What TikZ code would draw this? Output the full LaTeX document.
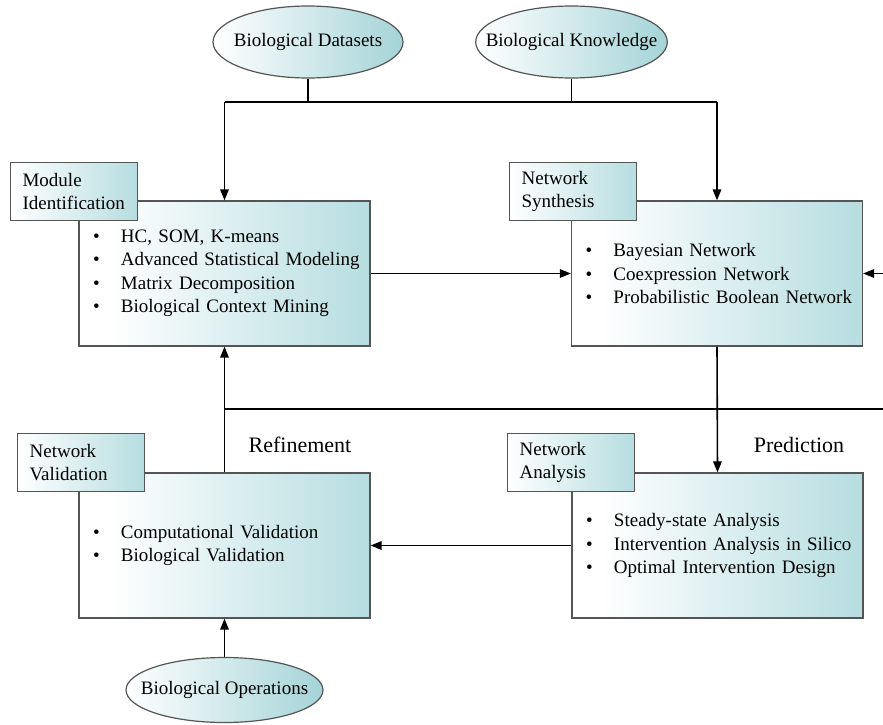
\documentclass[tikz,border=0pt]{standalone}
\usepackage{fontspec}
\setmainfont{Liberation Serif}
\usetikzlibrary{arrows.meta,shapes.geometric}
\definecolor{boxteal}{RGB}{182,221,224}
\definecolor{ellteal}{RGB}{165,212,216}
\definecolor{edgegray}{RGB}{85,85,85}
\pgfdeclarehorizontalshading{boxfade}{100bp}{color(0bp)=(white); color(30bp)=(white); color(75bp)=(boxteal); color(100bp)=(boxteal)}
\newcommand{\bul}[1]{\mbox{\makebox[28pt][l]{\textbullet}#1}}

\begin{document}
\begin{tikzpicture}[x=1pt,y=-1pt,
  every node/.style={font=\fontsize{19}{23.5}\selectfont},
  mainbox/.style={draw=edgegray,line width=1.2pt,shade,shading=boxfade,minimum width=291pt,minimum height=145pt,inner xsep=14pt,text width=263pt,align=left},
  tagbox/.style={draw=edgegray,line width=1.2pt,left color=white,right color=boxteal,minimum width=127pt,minimum height=58pt,inner xsep=12pt,text width=103pt,align=left,anchor=north west},
  source/.style={ellipse,draw=edgegray,line width=1.2pt,left color=white,right color=ellteal,minimum width=190pt,minimum height=72pt,inner xsep=-18pt,inner ysep=0pt},
  arr/.style={-{Triangle[length=11pt,width=8.5pt]}},
  phase/.style={font=\fontsize{22}{26}\selectfont}]
  \useasboundingbox (0,0) rectangle (883,725);

  \node[source] (bd) at (308,42) {Biological Datasets};
  \node[source] (bk) at (571.5,42) {Biological Knowledge};
  \node[source,minimum width=197pt,minimum height=65pt] (bo) at (224.5,690) {Biological Operations};

  \node[mainbox] (mi) at (224.5,273.5) {\bul{HC, SOM, K-means}\\\bul{Advanced Statistical Modeling}\\\bul{Matrix Decomposition}\\\bul{Biological Context Mining}};
  \node[mainbox] (ns) at (717,273.5) {\bul{Bayesian Network}\\\bul{Coexpression Network}\\\bul{Probabilistic Boolean Network}};
  \node[mainbox] (nv) at (224.5,545.5) {\bul{Computational Validation}\\\bul{Biological Validation}};
  \node[mainbox] (na) at (717.5,545.5) {\bul{Steady-state Analysis}\\\bul{Intervention Analysis in Silico}\\\bul{Optimal Intervention Design}};

  \node[tagbox] (milab) at (10,162) {Module\\Identification};
  \node[tagbox] (nslab) at (509,162) {Network\\Synthesis};
  \node[tagbox] (nvlab) at (17,433) {Network\\Validation};
  \node[tagbox] (nalab) at (507,433) {Network\\Analysis};

  \node[phase] (refine) at (300,445) {Refinement};
  \node[phase] (predict) at (799,445) {Prediction};

  \coordinate (jl) at (224.5,102);
  \coordinate (jr) at (717,102);
  \coordinate (re) at (883,273.5);
  \coordinate (rl) at (224.5,409);
  \coordinate (rr) at (883,409);

  \begin{scope}[line width=1.6pt]
    \draw (bd.south) -- (bd.south |- jl);
    \draw (bk.south) -- (bk.south |- jl);
    \draw (jl) -- (jr);
    \draw[arr] (jl) -- (mi.north);
    \draw[arr] (jr) -- (ns.north);
    \draw[arr] (mi.east) -- (ns.west);
    \draw[arr] (re) -- (ns.east);
    \draw[arr] (ns.south) -- (na.north);
    \draw (rl) -- (rr);
    \draw[arr] (nv.north) -- (mi.south);
    \draw[arr] (na.west) -- (nv.east);
    \draw[arr] (bo.north) -- (nv.south);
  \end{scope}
\end{tikzpicture}
\end{document}
